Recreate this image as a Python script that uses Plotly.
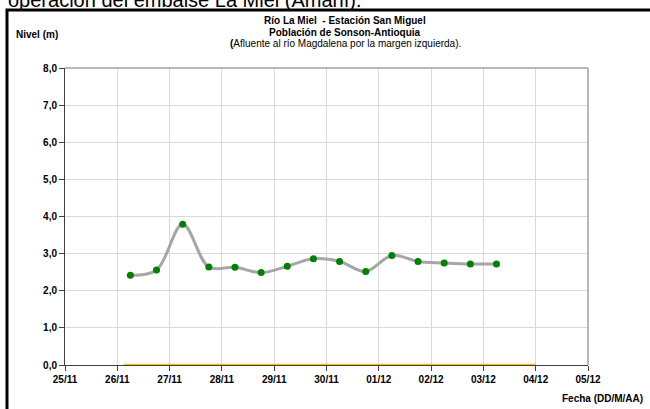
import plotly.graph_objects as go

# lecturas cada 12 horas (06:00 y 18:00)
fechas = [
    "2010-11-26 06:00", "2010-11-26 18:00", "2010-11-27 06:00", "2010-11-27 18:00",
    "2010-11-28 06:00", "2010-11-28 18:00", "2010-11-29 06:00", "2010-11-29 18:00",
    "2010-11-30 06:00", "2010-11-30 18:00", "2010-12-01 06:00", "2010-12-01 18:00",
    "2010-12-02 06:00", "2010-12-02 18:00", "2010-12-03 06:00",
]
nivel = [2.42, 2.56, 3.79, 2.64, 2.63, 2.49, 2.66, 2.86, 2.79, 2.52, 2.95, 2.79, 2.75, 2.72, 2.72]

# serie de referencia en cero
fechas_ref = ["2010-11-26 03:00", "2010-12-04 00:00"]
nivel_ref = [0, 0]

rango_x = ["2010-11-25", "2010-12-05"]
rango_y = [0, 8]

FONT = "Arial, Liberation Sans, sans-serif"

# margenes del area de trazado (px)
L, R, T, B = 65, 62, 68, 44
W, H = 650, 409
PW, PH = W - L - R, H - T - B


def px(p):
    return (p - L) / PW


def py(p):
    return (H - B - p) / PH


fig = go.Figure()

fig.add_trace(go.Scatter(
    x=fechas_ref, y=nivel_ref, mode="lines",
    line=dict(color="#FFC000", width=2.5),
    cliponaxis=False, hoverinfo="skip",
))

fig.add_trace(go.Scatter(
    x=fechas, y=nivel, mode="lines+markers",
    line=dict(color="#A6A6A6", width=3, shape="spline", smoothing=1.0),
    marker=dict(color="#008000", size=7),
))

fig.update_layout(
    width=W, height=H,
    margin=dict(l=L, r=R, t=T, b=B),
    paper_bgcolor="white", plot_bgcolor="white",
    showlegend=False,
    separators=",.",
    font=dict(family=FONT, color="black"),
)

fig.update_xaxes(
    type="date", range=rango_x,
    dtick=86400000, tick0="2010-11-25", tickformat="%d/%m",
    tickfont=dict(size=10, weight="bold"),
    showgrid=True, gridcolor="#D9D9D9", gridwidth=1,
    showline=True, linecolor="#404040", linewidth=1, mirror=False,
    ticks="outside", ticklen=5, tickcolor="#404040",
    layer="below traces", zeroline=False,
)
fig.update_yaxes(
    range=rango_y, dtick=1, tickformat=".1f",
    tickfont=dict(size=10, weight="bold"),
    showgrid=True, gridcolor="#D9D9D9", gridwidth=1,
    showline=True, linecolor="#404040", linewidth=1,
    ticks="outside", ticklen=5, tickcolor="#404040",
    zeroline=False,
)

# borde gris superior y derecho del area de trazado
fig.add_shape(type="line", xref="paper", yref="paper", x0=0, x1=1, y0=1, y1=1,
              line=dict(color="#A0A0A0", width=1.5))
fig.add_shape(type="line", xref="paper", yref="paper", x0=1, x1=1, y0=0, y1=1,
              line=dict(color="#A0A0A0", width=1.5))

# marco negro exterior
fig.add_shape(type="rect", xref="paper", yref="paper",
              x0=px(7), x1=px(653), y0=py(10), y1=py(420),
              line=dict(color="black", width=3), layer="above")

anot = [
    dict(text="operación del embalse La Miel (Amaní).", x=px(6), y=py(13),
         xanchor="left", yanchor="bottom", font=dict(size=20)),
    dict(text="<b>Río La Miel  - Estación San Miguel</b>", x=px(345), y=py(21),
         xanchor="center", yanchor="middle", font=dict(size=10)),
    dict(text="<b>Población de Sonson-Antioquia</b>", x=px(345), y=py(32),
         xanchor="center", yanchor="middle", font=dict(size=10)),
    dict(text="<b>(</b>Afluente al río Magdalena por la margen izquierda).", x=px(345), y=py(44),
         xanchor="center", yanchor="middle", font=dict(size=10)),
    dict(text="<b>Nivel (m)</b>", x=px(37), y=py(34),
         xanchor="center", yanchor="middle", font=dict(size=10)),
    dict(text="<b>Fecha (DD/M/AA)</b>", x=px(645), y=py(398),
         xanchor="right", yanchor="middle", font=dict(size=10)),
]
for a in anot:
    fig.add_annotation(xref="paper", yref="paper", showarrow=False, **a)

# sin margen del <body> para que la figura ocupe la ventana exacta
fig.write_html("out.html", config={"displayModeBar": False},
               post_script="document.body.style.margin='0';")
